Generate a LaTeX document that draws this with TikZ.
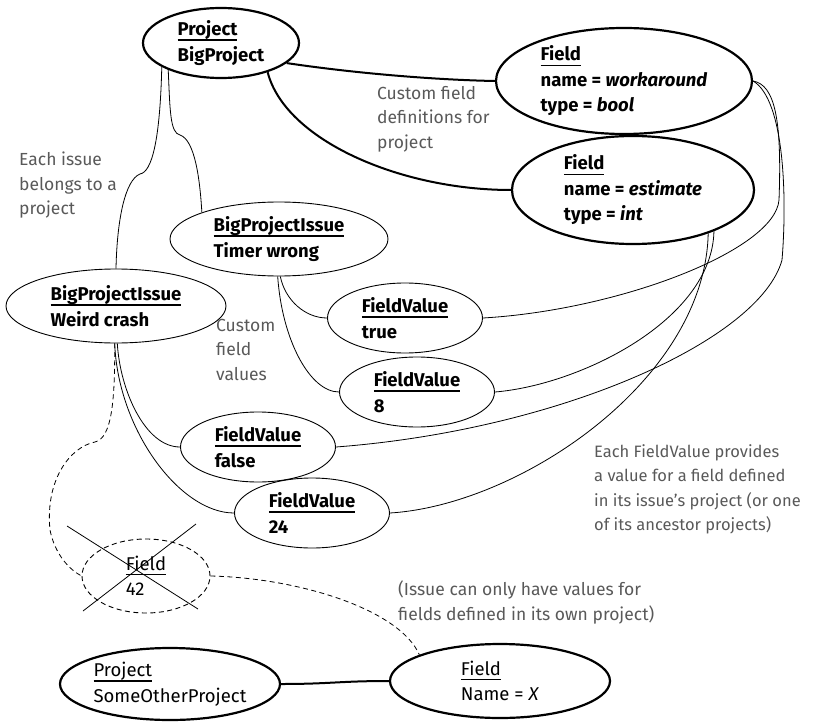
\documentclass[tikz,border=0pt]{standalone}
\usepackage{fontspec}
\setmainfont{Fira Sans}
\usetikzlibrary{shapes.geometric}

% class name over the object, underlined
\newcommand{\objname}[1]{\setbox0\hbox{#1}\rlap{\rule[-5pt]{\wd0}{1.3pt}}\box0}

\begin{document}
\begin{tikzpicture}[x=1pt,y=-1pt,
    obj/.style={ellipse,draw,line width=0.9pt,inner sep=0pt,align=left,
      font=\fontsize{18.5}{25.5}\selectfont\bfseries},
    bigobj/.style={obj,line width=2.2pt},
    lightobj/.style={font=\fontsize{18.5}{25.5}\selectfont\mdseries},
    link/.style={line width=0.8pt},
    deflink/.style={line width=2pt},
    gone/.style={dash pattern=on 5pt off 3.5pt},
    note/.style={anchor=north west,inner sep=0pt,align=left,text=black!65,
      font=\fontsize{17.5}{24.5}\selectfont}]
  \useasboundingbox (0,0) rectangle (813,722);

  % Projects and fields
  \node[bigobj,minimum width=156,minimum height=70] (bigproj) at (221,43) {\objname{Project}\\BigProject};
  \node[bigobj,minimum width=256,minimum height=106] (fwork) at (624,81) {\objname{Field}\\name = \textit{workaround}\\type = \textit{bool}};
  \node[bigobj,minimum width=242,minimum height=108] (festi) at (633,190) {\objname{Field}\\name = \textit{estimate}\\type = \textit{int}};

  % Issues
  \node[obj,minimum width=218,minimum height=74] (timer) at (279,239) {\objname{BigProjectIssue}\\Timer wrong};
  \node[obj,minimum width=220,minimum height=74] (weird) at (116,306) {\objname{BigProjectIssue}\\Weird crash};

  % Field values
  \node[obj,minimum width=155,minimum height=70] (fvtrue) at (405,318) {\objname{FieldValue}\\true};
  \node[obj,minimum width=155,minimum height=70] (fveight) at (417,392) {\objname{FieldValue}\\8};
  \node[obj,minimum width=155,minimum height=70] (fvfalse) at (258,447) {\objname{FieldValue}\\false};
  \node[obj,minimum width=155,minimum height=70] (fvtwenty) at (312,513) {\objname{FieldValue}\\24};

  % The value that is not allowed
  \node[obj,lightobj,gone,minimum width=128,minimum height=74] (fbad) at (146,576) {\objname{Field}\\42};
  \draw[link] (67,526) -- (198,609);
  \draw[link] (83,611) -- (196,524);

  % The other project
  \node[bigobj,lightobj,minimum width=220,minimum height=72] (otherproj) at (170,684) {\objname{Project}\\SomeOtherProject};
  \node[bigobj,lightobj,minimum width=220,minimum height=74] (fx) at (500,681) {\objname{Field}\\Name = \textit{X}};

  % Issue -> project
  \draw[link] (bigproj.202) .. controls (160,140) and (152,172) .. (140,174)
    .. controls (125,180) and (117,220) .. (weird.north);
  \draw[link] (bigproj.207) .. controls (170,110) and (170,133) .. (180,135)
    .. controls (195,140) and (200,180) .. (timer.161);

  % Project -> field definitions
  \draw[deflink] (bigproj.343) .. controls (360,74) and (440,80) .. (fwork.west);
  \draw[deflink] (bigproj.328) .. controls (285,140) and (400,190) .. (festi.west);

  % Issue -> values
  \draw[link] (timer.272) .. controls (285,300) and (305,318) .. (fvtrue.west);
  \draw[link] (timer.268) .. controls (282,340) and (310,392) .. (fveight.west);
  \draw[link] (weird.272) .. controls (120,390) and (145,447) .. (fvfalse.west);
  \draw[link] (weird.268) .. controls (118,430) and (180,513) .. (fvtwenty.west);

  % Value -> field
  \draw[link] (fvtrue.east) .. controls (620,310) and (775,250) .. (779,200)
    .. controls (782,120) and (775,85) .. (fwork.east);
  \draw[link] (fvfalse.east) .. controls (560,430) and (760,340) .. (782,260)
    .. controls (787,200) and (785,100) .. (fwork.east);
  \draw[link] (fveight.east) .. controls (580,385) and (712,320) .. (festi.333);
  \draw[link] (fvtwenty.east) .. controls (520,505) and (705,380) .. (festi.330);

  % Dashed: the bad value
  \draw[link,gone] (weird.268) .. controls (115,400) and (112,438) .. (95,442)
    .. controls (70,447) and (45,480) .. (50,530)
    .. controls (55,555) and (70,570) .. (fbad.west);
  \draw[link,gone] (fbad.east) .. controls (300,578) and (400,610) .. (fx.162);

  \draw[deflink] (otherproj.east) .. controls (330,684) and (340,681) .. (fx.west);

  % Notes
  \node[note] (noteproj) at (19,152) {Each issue\\belongs to a\\project};
  \node[note] (notedefs) at (377,86) {Custom field\\definitions for\\project};
  \node[note] (notevals) at (216,319) {Custom\\field\\values};
  \node[note,font=\fontsize{16.5}{24.5}\selectfont] (noteeach) at (594,444) {Each FieldValue provides\\a value for a field defined\\in its issue's project (or one\\of its ancestor projects)};
  \node[note] (noteonly) at (398,581) {(Issue can only have values for\\fields defined in its own project)};
\end{tikzpicture}
\end{document}
